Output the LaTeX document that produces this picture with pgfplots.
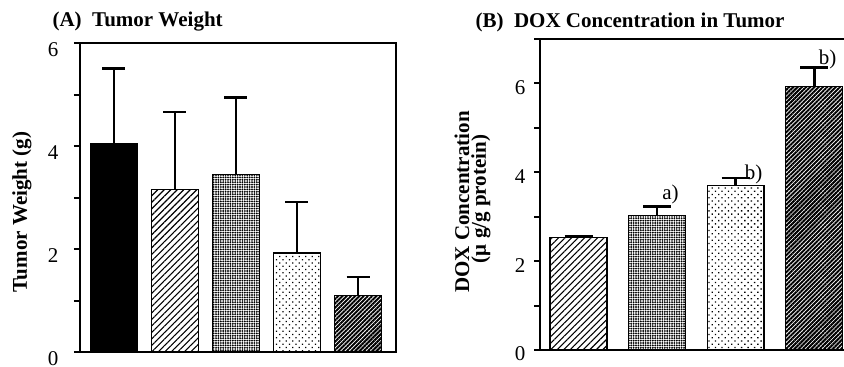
\documentclass[border=0pt]{standalone}
\usepackage{pgfplots}
\pgfplotsset{compat=1.18}
\usetikzlibrary{patterns.meta}
\usepackage{fontspec}
\setmainfont{Liberation Serif}
\newcommand{\fs}{\fontsize{21bp}{24bp}\selectfont}
\tikzset{
  sparselines/.style={pattern={Lines[angle=45,distance=4.6bp,line width=1.1bp]},pattern color=black},
  densedots/.style={pattern={Dots[distance=2.4bp,radius=1.05bp]},pattern color=black},
  sparsedots/.style={pattern={Dots[angle=45,distance=4.6bp,radius=0.9bp]},pattern color=black},
  darklines/.style={pattern={Lines[angle=45,distance=3bp,line width=2bp]},pattern color=black},
}
\pgfplotsset{
  panel/.style={
    scale only axis, anchor=south west, ybar, bar shift=0pt,
    axis line style={line width=2.2bp},
    xtick=\empty, ytick pos=left, tick align=outside,
    major tick length=6bp, tick style={line width=2bp,black},
    ymin=0, clip=false,
    yticklabel style={font=\fs},
    error bars/y dir=plus, error bars/y explicit,
    error bars/error bar style={line width=2.6bp},
    error bars/error mark options={rotate=90,line width=2.6bp,mark size=11.5bp},
    every axis plot/.append style={draw=black,line width=1.3bp},
  }
}
\begin{document}
\begin{tikzpicture}
\path[use as bounding box] (0bp,0bp) rectangle (844bp,367bp);
\clip (0bp,0bp) rectangle (844bp,367bp);
% Panel A
\begin{axis}[panel, at={(80bp,15bp)}, width=316bp, height=309bp,
  xmin=-0.557, xmax=4.623, ymax=6, ytick={0,1,2,3,4,5,6},
  yticklabels={0,,2,,4,,6}, yticklabel style={xshift=-12bp,yshift=-7bp},
  bar width=0.77]
\addplot[fill=black] coordinates {(0,4.04) +- (0,1.47)};
\addplot[sparselines] coordinates {(1,3.15) +- (0,1.51)};
\addplot[densedots] coordinates {(2,3.45) +- (0,1.49)};
\addplot[sparsedots] coordinates {(3,1.92) +- (0,0.99)};
\addplot[darklines] coordinates {(4,1.10) +- (0,0.36)};
\end{axis}
% Panel B
\begin{axis}[panel, at={(540bp,17bp)}, width=308bp, height=311bp,
  xmin=-0.49, xmax=3.43, ymax=7, ytick={0,1,2,3,4,5,6,7},
  yticklabels={0,,2,,4,,6,}, yticklabel style={xshift=-5bp,yshift=-4bp},
  bar width=0.725,
  error bars/error mark options={rotate=90,line width=2.6bp,mark size=14bp}]
\addplot[sparselines] coordinates {(0,2.53) +- (0,0.03)};
\addplot[densedots] coordinates {(1,3.03) +- (0,0.20)};
\addplot[sparsedots] coordinates {(2,3.71) +- (0,0.16)};
\addplot[darklines] coordinates {(3,5.93) +- (0,0.43)};
\node[font=\fs] at (axis cs:1.17,3.49) {a)};
\node[font=\fs] at (axis cs:2.23,3.96) {b)};
\node[font=\fs] at (axis cs:3.17,6.55) {b)};
\end{axis}
\node[font=\fs\bfseries,anchor=west] at (49bp,345bp) {(A)\ \ Tumor Weight};
\node[font=\fs\bfseries,anchor=west] at (472bp,345bp) {(B)\ \ DOX Concentration in Tumor};
\node[font=\fs\bfseries,rotate=90] at (22bp,155bp) {Tumor Weight (g)};
\node[font=\fs\bfseries,rotate=90] at (462bp,165bp) {DOX Concentration};
\node[font=\fs\bfseries,rotate=90] at (481bp,168bp) {(μ g/g protein)};
\end{tikzpicture}
\end{document}
